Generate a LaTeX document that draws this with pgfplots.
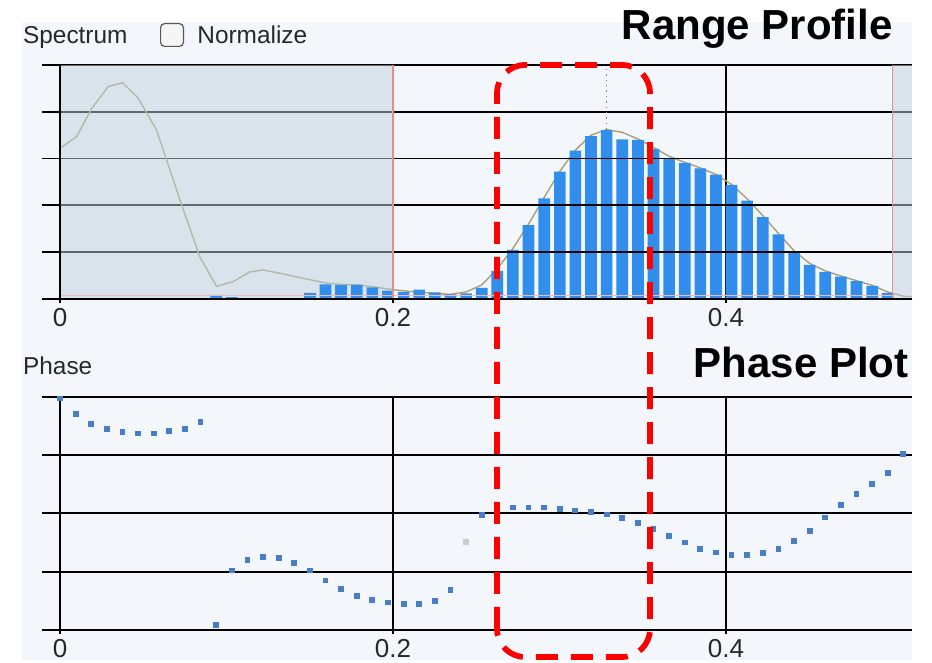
\documentclass[border=0pt]{standalone}
\usepackage{pgfplots}
\pgfplotsset{compat=1.18}
\usepackage{fontspec}
\setmainfont{Liberation Sans}
\definecolor{scrbg}{RGB}{243,247,251}
\definecolor{shadec}{RGB}{190,208,220}
\definecolor{barblue}{RGB}{50,142,236}
\definecolor{curvec}{RGB}{170,160,120}
\definecolor{selred}{RGB}{232,140,140}
\definecolor{phaseblue}{RGB}{72,126,200}
\definecolor{uitext}{RGB}{40,40,40}
\pgfplotsset{
  uiaxis/.style={
    scale only axis, anchor=south west, width=426pt,
    xmin=0, xmax=0.5117,
    axis x line*=bottom, axis y line*=left,
    axis line style={-, black, line width=0.9pt},
    xtick={0,0.2,0.4}, xticklabels={0,0.2,0.4},
    yticklabels={{}},
    grid style={black, line width=0.9pt},
    tick style={black, line width=0.9pt},
    tick align=outside, major tick length=2pt,
    xticklabel style={font=\fontsize{13}{15}\selectfont, text=uitext, inner sep=0pt, yshift=-2.5pt},
    clip=false,
  }
}
\begin{document}
\begin{tikzpicture}
\useasboundingbox (0,0) rectangle (466pt,331.5pt);
\fill[white] (0,0) rectangle (466pt,331.5pt);
\fill[scrbg] (11pt,1.5pt) rectangle (456pt,320.5pt);
% ---------------- Spectrum / Range profile ----------------
\begin{axis}[uiaxis, at={(30pt,182pt)}, height=117pt,
  ymin=0, ymax=5, ytick={0,1,2,3,4,5}, ymajorgrids]
\foreach \yy in {0,1,2,3,4,5}{
  \edef\tmp{\noexpand\draw[black, line width=0.9pt] (axis cs:0,\yy) -- ++(-9pt,0);}\tmp
}
\draw[black, line width=0.9pt] (axis cs:0.4,0) -- (axis cs:0.4,5);
\addplot[curvec, line width=0.7pt] coordinates {
(0.0000,3.22) (0.0100,3.47) (0.0190,4.07) (0.0290,4.54) (0.0377,4.62)
(0.0470,4.29) (0.0580,3.61) (0.0720,2.12) (0.0840,0.90) (0.0940,0.27)
(0.1040,0.37) (0.1140,0.58) (0.1220,0.62) (0.1320,0.55) (0.1450,0.45)
(0.1600,0.34) (0.1700,0.31) (0.1800,0.30) (0.1900,0.25) (0.2000,0.20)
(0.2100,0.16) (0.2250,0.12) (0.2345,0.10) (0.2439,0.15) (0.2533,0.30)
(0.2626,0.64) (0.2720,1.08) (0.2814,1.60) (0.2908,2.17) (0.3002,2.73)
(0.3095,3.18) (0.3189,3.50) (0.3283,3.62) (0.3377,3.56) (0.3471,3.42)
(0.3564,3.24) (0.3658,3.05) (0.3752,2.92) (0.3846,2.80) (0.3940,2.66)
(0.4033,2.45) (0.4127,2.14) (0.4221,1.78) (0.4315,1.40) (0.4409,1.03)
(0.4502,0.76) (0.4596,0.60) (0.4690,0.49) (0.4784,0.39) (0.4878,0.29)
(0.4971,0.15) (0.5065,0.06) (0.5117,0.05)};
% bars in the selected (unshaded) range
\addplot[ybar, bar width=0.0070, bar shift=0pt, fill=barblue, draw=none] coordinates {
(0.2064,0.15) (0.2157,0.20) (0.2251,0.14) (0.2345,0.10) (0.2439,0.12)
(0.2533,0.24) (0.2626,0.60) (0.2720,1.05) (0.2814,1.58) (0.2908,2.15)
(0.3002,2.72) (0.3095,3.17) (0.3189,3.48) (0.3283,3.61) (0.3377,3.41)
(0.3471,3.40) (0.3564,3.21) (0.3658,2.99) (0.3752,2.91) (0.3846,2.79)
(0.3940,2.66) (0.4033,2.44) (0.4127,2.10) (0.4221,1.75) (0.4315,1.38)
(0.4409,1.00) (0.4502,0.73) (0.4596,0.58) (0.4690,0.48) (0.4784,0.38)
(0.4878,0.28) (0.4971,0.13)};
\foreach \yy in {1,2,3,4}{
  \edef\tmp{\noexpand\draw[black, line width=0.9pt] (axis cs:0.2,\yy) -- (axis cs:0.5,\yy);}\tmp
}
% shaded (unselected) ranges
\fill[shadec, opacity=0.5] (axis cs:0,0) rectangle (axis cs:0.2,5);
\fill[shadec, opacity=0.5] (axis cs:0.5,0) rectangle (axis cs:0.5117,5);
% bars in the shaded range
\addplot[ybar, bar width=0.0070, bar shift=0pt, fill=barblue, draw=none] coordinates {
(0.0938,0.09) (0.1032,0.04) (0.1501,0.13) (0.1595,0.31) (0.1688,0.30)
(0.1782,0.30) (0.1876,0.25) (0.1970,0.18)};
\draw[selred!60, line width=0.5pt] (axis cs:0,0.07) -- (axis cs:0.5,0.07);
\draw[selred, line width=0.6pt] (axis cs:0.2,0) -- (axis cs:0.2,5);
\draw[selred, line width=0.6pt] (axis cs:0.5,0) -- (axis cs:0.5,5);
\draw[gray, dotted, line width=0.7pt] (axis cs:0.3283,3.62) -- (axis cs:0.3283,5);
\draw[black, line width=0.9pt] (axis cs:0,-0.03) -- (axis cs:0,5);
\draw[black, line width=0.9pt] (axis cs:0,0) -- (axis cs:0.5117,0);
\end{axis}
% ---------------- Phase plot ----------------
\begin{axis}[uiaxis, at={(30pt,16.5pt)}, height=116.65pt,
  ymin=0, ymax=4, ytick={0,1,2,3,4}, xmajorgrids, ymajorgrids]
\foreach \yy in {0,1,2,3,4}{
  \edef\tmp{\noexpand\draw[black, line width=0.9pt] (axis cs:0,\yy) -- ++(-9pt,0);}\tmp
}
\addplot[phaseblue, only marks, mark=square*, mark size=1.2pt, mark options={draw=phaseblue, fill=phaseblue, line width=0pt}] coordinates {
(0.0000,3.97) (0.0094,3.70) (0.0188,3.53) (0.0281,3.44) (0.0375,3.40)
(0.0469,3.37) (0.0563,3.37) (0.0657,3.41) (0.0750,3.45) (0.0844,3.56)
(0.0938,0.09) (0.1032,1.02) (0.1126,1.20) (0.1219,1.25) (0.1313,1.23)
(0.1407,1.15) (0.1501,1.02) (0.1595,0.85) (0.1688,0.70) (0.1782,0.58)
(0.1876,0.51) (0.1970,0.47) (0.2064,0.44) (0.2157,0.45) (0.2251,0.50)
(0.2345,0.68)
(0.2533,1.97) (0.2626,2.08) (0.2720,2.10) (0.2814,2.10) (0.2908,2.10)
(0.3002,2.08) (0.3095,2.05) (0.3189,2.02) (0.3283,1.98) (0.3377,1.92)
(0.3471,1.84) (0.3564,1.73) (0.3658,1.61) (0.3752,1.50) (0.3846,1.39)
(0.3940,1.33) (0.4033,1.28) (0.4127,1.28) (0.4221,1.32) (0.4315,1.39)
(0.4409,1.53) (0.4502,1.70) (0.4596,1.93) (0.4690,2.14) (0.4784,2.33)
(0.4878,2.50) (0.4971,2.69) (0.5065,3.02)};
\addplot[black!20, only marks, mark=square*, mark size=1.2pt, mark options={draw=black!20, fill=black!20, line width=0pt}] coordinates {(0.2439,1.51)};
\end{axis}
% ---------------- UI texts ----------------
\node[anchor=base west, inner sep=0, text=uitext, font=\fontsize{12.2}{14}\selectfont] at (11.35pt,309.85pt) {Spectrum};
\draw[black!65, line width=0.6pt, fill=white!96!black, rounded corners=2pt] (80.3pt,308.3pt) rectangle (91.7pt,319.7pt);
\node[anchor=base west, inner sep=0, text=uitext, font=\fontsize{12.2}{14}\selectfont] at (98.5pt,309.85pt) {Normalize};
\node[anchor=base west, inner sep=0, text=uitext, font=\fontsize{12.2}{14}\selectfont] at (11.35pt,144pt) {Phase};
\node[anchor=base east, inner sep=0, font=\fontsize{21}{24}\selectfont\bfseries] at (446.5pt,311.5pt) {Range Profile};
\node[anchor=base east, inner sep=0, font=\fontsize{21}{24}\selectfont\bfseries] at (454.5pt,142.5pt) {Phase Plot};
% ---------------- highlight box ----------------
\draw[red, line width=2.85pt, dash pattern=on 11pt off 6.5pt, rounded corners=14pt] (248.5pt,3pt) rectangle (325pt,299pt);
\end{tikzpicture}
\end{document}
